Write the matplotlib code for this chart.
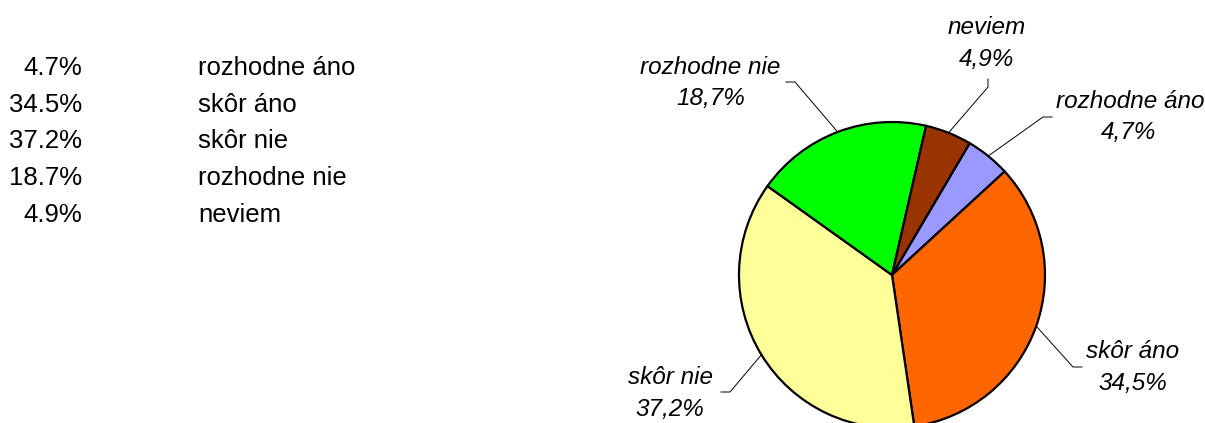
import numpy as np
import matplotlib
matplotlib.use('Agg')
import matplotlib.pyplot as plt

plt.rcParams['font.family'] = ['Liberation Sans', 'DejaVu Sans']

categories = ['rozhodne áno', 'skôr áno', 'skôr nie', 'rozhodne nie', 'neviem']
shares = [4.7, 34.5, 37.2, 18.7, 4.9]
colors = ['#9999FF', '#FF6600', '#FFFF99', '#00FF00', '#993300']

W, H = 1205, 423


def py(y):
    # pixel row (top-down) -> axes y (bottom-up)
    return H - y


fig = plt.figure(figsize=(W / 100, H / 100), dpi=100)
ax = fig.add_axes([0, 0, 1, 1])

# left-hand table
table_rows = [65, 102, 138, 175, 212]
for y, v, name in zip(table_rows, shares, categories):
    ax.text(82, py(y) - 9.5, f'{v:.1f}%', ha='right', va='baseline', fontsize=18.5)
    ax.text(198, py(y) - 9.5, name, ha='left', va='baseline', fontsize=18.5)

# pie
cx, cy, r = 892, py(275), 153
wedges, _ = ax.pie(shares, colors=colors, startangle=59.5, counterclock=False,
                   center=(cx, cy), radius=r,
                   wedgeprops=dict(edgecolor='black', linewidth=1.6))

# label layout: name centre, pct centre, elbow, end of leader
label_pos = {
    'rozhodne áno': ((1130, 99), (1129, 130), (1043, 117), (1052, 117)),
    'skôr áno': ((1133, 349), (1133, 381), (1073, 367), (1082, 367)),
    'skôr nie': ((670, 375), (670, 407), (730, 392), (721, 392)),
    'rozhodne nie': ((710, 65), (711, 96), (795, 82), (786, 82)),
    'neviem': ((987, 25), (987, 57), (988, 87), (988, 79)),
}

for w, name, v in zip(wedges, categories, shares):
    (nx, ny), (px_, py_), (ex, ey), (tx, ty) = label_pos[name]
    mid = np.deg2rad((w.theta1 + w.theta2) / 2)
    rx, ry = cx + r * np.cos(mid), cy + r * np.sin(mid)
    ax.plot([rx, ex, tx], [ry, py(ey), py(ty)], color='black', lw=0.7,
            solid_joinstyle='miter')
    ax.text(nx, py(ny) - 8.7, name, ha='center', va='baseline',
            fontsize=17.5, style='italic')
    ax.text(px_, py(py_) - 8.7, f'{v:.1f}%'.replace('.', ','), ha='center',
            va='baseline', fontsize=17.5, style='italic')

ax.set_xlim(0, W)
ax.set_ylim(0, H)
ax.set_aspect('equal')
ax.axis('off')

fig.savefig('out.png', dpi=100)
